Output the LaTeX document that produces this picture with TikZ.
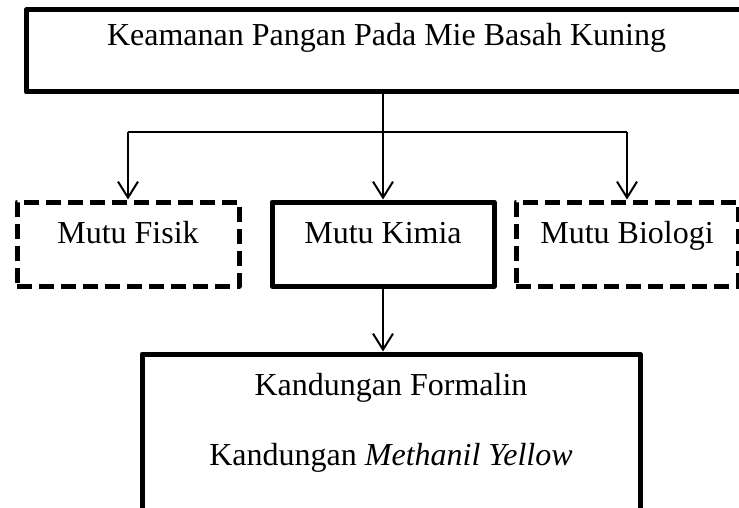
\documentclass[tikz,border=0pt]{standalone}
\usepackage{fontspec}
\setmainfont{Liberation Serif}
\usetikzlibrary{
  positioning,
  arrows.meta
}
\tikzset{
  every node/.style={font=\fontsize{32}{70}\selectfont, text height=22pt, text depth=24pt},
  box/.style={draw, line width=5pt, line join=round, inner sep=0pt,
    minimum width=222pt, minimum height=84pt},
  dashbox/.style={box, dash pattern=on 15pt off 7pt},
  link/.style={line width=2pt},
  arrow/.style={link, -{Straight Barb[length=16pt, width=20pt]}}
}

\begin{document}
\begin{tikzpicture}[x=1pt, y=-1pt]
    \useasboundingbox (0,0) rectangle (739,508);
    \clip (0,0) rectangle (739,508);

    \node[box, minimum width=721pt, minimum height=82pt, text depth=32pt] (top) at (386.5,51)
      {Keamanan Pangan Pada Mie Basah Kuning};
    \node[box] (kimia) at (383,244) {Mutu Kimia};
    \node[dashbox, left=28pt of kimia] (fisik) {Mutu Fisik};
    \node[dashbox, right=17pt of kimia] (biologi) {Mutu Biologi};
    \node[box, below=63pt of kimia, xshift=8pt, minimum width=498pt, minimum height=200pt,
      text height=111pt, text depth=100pt, align=center] (isi)
      {Kandungan Formalin\\Kandungan \textit{Methanil Yellow}};

    \coordinate (split) at (383,132);
    \draw[link] (top.south -| split) -- (split);
    \draw[link] (fisik.north |- split) -- (biologi.north |- split);
    \draw[arrow] (split) -- (kimia.north);
    \draw[arrow] (fisik.north |- split) -- (fisik.north);
    \draw[arrow] (biologi.north |- split) -- (biologi.north);
    \draw[arrow] (kimia.south) -- (kimia.south |- isi.north);
\end{tikzpicture}
\end{document}
